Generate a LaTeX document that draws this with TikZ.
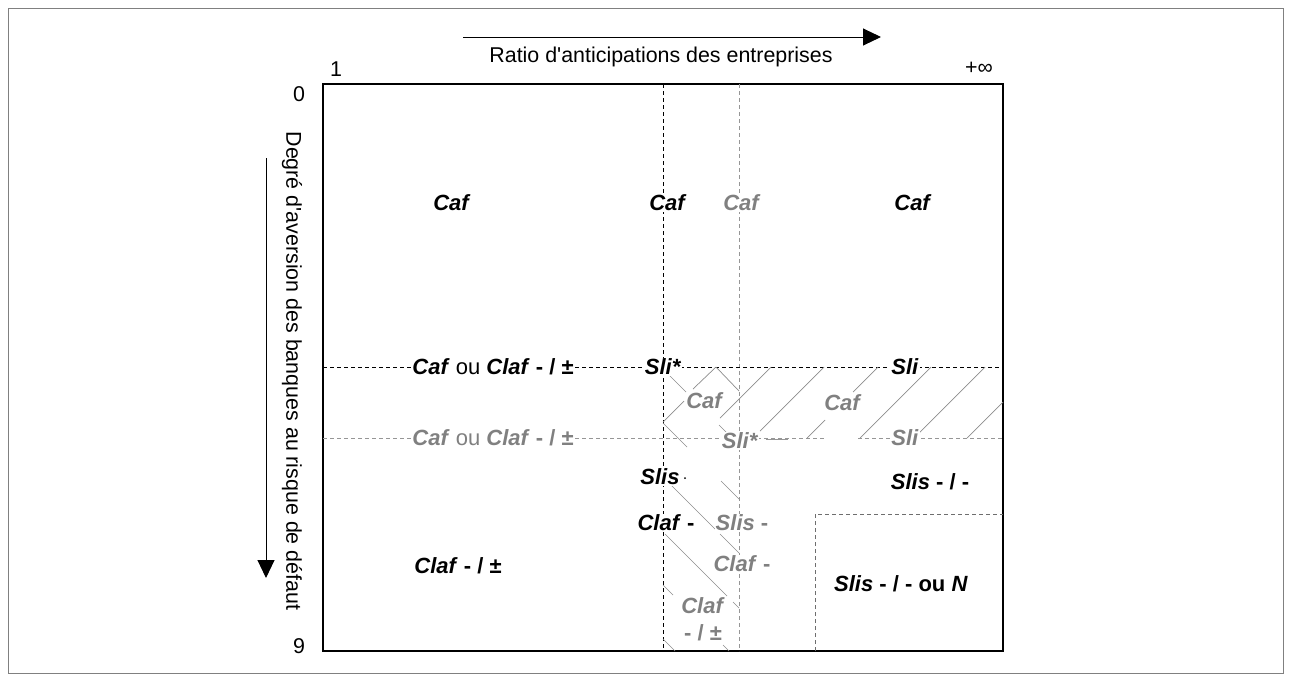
\documentclass[tikz,border=0pt]{standalone}
\usepackage{fontspec}
\setmainfont{Liberation Sans}
\usetikzlibrary{arrows.meta}
\definecolor{gtxt}{RGB}{128,128,128}
\definecolor{gline}{RGB}{150,150,150}
\definecolor{hatchc}{RGB}{140,140,140}
\definecolor{boxc}{RGB}{110,110,110}
\newcommand\bi[1]{\textbf{\textit{#1}}}
\begin{document}
\begin{tikzpicture}[x=1pt,y=-1pt,
  lbl/.style={font=\fontsize{22}{25}\selectfont, inner sep=1pt, fill=white},
  glbl/.style={lbl, text=gtxt},
  plain/.style={font=\fontsize{21.4}{24}\selectfont, inner sep=0pt},
  bdash/.style={black, line width=0.8pt, dash pattern=on 4pt off 3pt},
  gdash/.style={gline, line width=0.8pt, dash pattern=on 4pt off 3pt},
  boxdash/.style={boxc, line width=0.8pt, dash pattern=on 4pt off 3pt},
  hl/.style={hatchc, line width=0.7pt},
  arr/.style={line width=1pt, -{Triangle[length=18pt,width=17pt]}}]
\useasboundingbox (0,0) rectangle (1291,681);
\draw[gray, line width=0.8pt] (8,8) rectangle (1283,673);
% frame
\coordinate (tl) at (323,84);
\coordinate (br) at (1003,651);
\draw[line width=1.4pt] (tl) rectangle (br);
% axis arrows
\coordinate (ha) at (463,37);
\coordinate (hb) at (881,37);
\draw[arr] (ha) -- (hb);
\coordinate (va) at (266,158);
\coordinate (vb) at (266,578);
\draw[arr] (va) -- (vb);
% axis texts
\node[plain] (title) at (661,57) {Ratio d\textquotesingle anticipations des entreprises};
\node[plain, rotate=-90] (ylab) at (292,371) {Degré d\textquotesingle aversion des banques au risque de défaut};
\node[plain] (one) at (336,69) {1};
\node[plain] (inf) at (979,68) {+∞};
\node[plain] (zero) at (299,94) {0};
\node[plain] (nine) at (299,646) {9};
% dashed separators
\draw[bdash] (663,84) -- (663,651);
\draw[gdash] (739,84) -- (739,651);
\draw[bdash] (323,367) -- (1003,367);
\draw[gdash] (323,438) -- (825,438);
\draw[gdash] (858,438) -- (1003,438);
\draw[gline, line width=0.8pt] (766,439) -- (788,439);
\draw[boxdash] (815,651) -- (815,514) -- (1003,514);
% hatching "/"
\draw[hl] (716,367) -- (693,389);
\draw[hl] (684,401) -- (663,422);
\draw[hl] (771,367) -- (720,418);
\draw[hl] (824,367) -- (760,431);
\draw[hl] (878,367) -- (853,392);
\draw[hl] (825,420) -- (807,438);
\draw[hl] (931,367) -- (860,438);
\draw[hl] (985,367) -- (915,437);
\draw[hl] (1003,402) -- (967,438);
% hatching "\"
\draw[hl] (716,367) -- (739,391);
\draw[hl] (667,373) -- (686,392);
\draw[hl] (719,425) -- (727,433);
\draw[hl] (663,423) -- (687,447);
\draw[hl] (721,481) -- (739,499);
\draw[hl] (668,482) -- (715,529);
\draw[hl] (720,534) -- (739,553);
\draw[hl] (665,534) -- (727,596);
\draw[hl] (733,602) -- (739,608);
\draw[hl] (663,585) -- (673,595);
\draw[hl] (723,645) -- (729,651);
\draw[hl] (663,639) -- (675,651);
\fill (685,478) circle (1pt);
% top row
\node[lbl] (caf1) at (452,203) {\bi{Caf}};
\node[lbl] (caf2) at (668,203) {\bi{Caf}};
\node[glbl] (caf3) at (742,203) {\bi{Caf}};
\node[lbl] (caf4) at (913,203) {\bi{Caf}};
% black horizontal line labels
\node[lbl] (cou1) at (493,367) {\bi{Caf} ou \bi{Claf} \textbf{- / ±}};
\node[lbl] (slis1) at (663,367) {\bi{Sli*}};
\node[lbl] (sli1) at (905,367) {\bi{Sli}};
% grey band labels
\node[glbl, fill=none] (gcaf1) at (705,401) {\bi{Caf}};
\node[glbl, fill=none] (gcaf2) at (843,403) {\bi{Caf}};
\node[glbl] (cou2) at (493,438) {\bi{Caf} ou \bi{Claf} \textbf{- / ±}};
\node[glbl] (gslis) at (740,441) {\bi{Sli*}};
\node[glbl] (gsli) at (905,438) {\bi{Sli}};
% lower labels
\node[lbl] (slis2) at (660,477) {\bi{Slis}};
\node[lbl] (claf1) at (666,523) {\bi{Claf} \textbf{-}};
\node[glbl] (gslis2) at (742,523) {\bi{Slis} \textbf{-}};
\node[glbl] (gclaf1) at (742,564) {\bi{Claf} \textbf{-}};
\node[glbl, fill=none, align=center, font=\fontsize{22}{27}\selectfont] (gclaf2) at (703,619) {\bi{Claf}\\\textbf{- / ±}};
\node[lbl] (slism) at (930,482) {\bi{Slis} \textbf{- / -}};
\node[lbl] (clafpm) at (458,566) {\bi{Claf} \textbf{- / ±}};
\node[lbl] (slisn) at (901,584) {\bi{Slis} \textbf{- / - ou} \bi{N}};
\end{tikzpicture}
\end{document}
